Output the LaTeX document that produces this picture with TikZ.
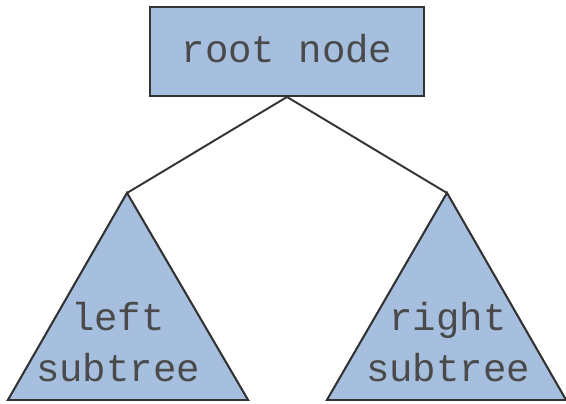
\documentclass[tikz,border=0pt]{standalone}
\usepackage{fontspec}
\setmonofont{Liberation Mono}
\definecolor{treeblue}{HTML}{A6BFDF}
\definecolor{treeline}{HTML}{333333}
\definecolor{treetext}{HTML}{4A4A4A}
\tikzset{
  boxnode/.style={draw=treeline,fill=treeblue,line width=1.1pt,minimum width=274*0.02cm,minimum height=89*0.02cm,inner sep=0pt},
  treetxt/.style={font=\ttfamily\fontsize{22.2}{29.5}\selectfont,text=treetext,align=center},
  subtree/.style={draw=treeline,fill=treeblue,line width=1.1pt,line join=miter},
  branch/.style={draw=treeline,line width=1.1pt}
}
\begin{document}
\begin{tikzpicture}[x=0.02cm,y=-0.02cm]
\useasboundingbox (0,0) rectangle (566,404);
\node[boxnode] (root) at (287,51.5) {};
\node[treetxt,anchor=base] (rootlbl) at (287,63) {root node};
\coordinate (lt) at (127,193);
\coordinate (rt) at (447,193);
\fill[subtree] (lt)--(248,400)--(8,400)--cycle;
\fill[subtree] (rt)--(566,400)--(327,400)--cycle;
\draw[subtree] (lt)--(248,400)--(8,400)--cycle;
\draw[subtree] (rt)--(566,400)--(327,400)--cycle;
\draw[branch] (root.south)--(lt);
\draw[branch] (root.south)--(rt);
\node[treetxt,anchor=base] (leftlbl) at (118,382) {left\\subtree};
\node[treetxt,anchor=base] (rightlbl) at (448,382) {right\\subtree};
\end{tikzpicture}
\end{document}
